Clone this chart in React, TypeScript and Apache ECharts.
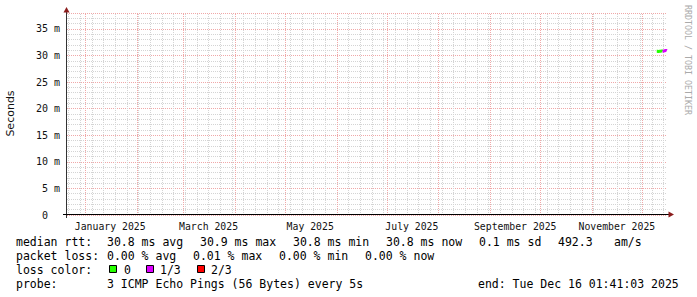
import React, { useEffect, useRef } from "react";
import * as echarts from "echarts";

// ---- data ----
const END_TIME = Date.UTC(2025, 11, 16, 1, 41, 3);
const SPAN_DAYS = 360;
const START_TIME = END_TIME - SPAN_DAYS * 86400000;

const sampleTimes = [
  "2025-12-09T22:00:00Z",
  "2025-12-10T10:00:00Z",
  "2025-12-10T22:00:00Z",
  "2025-12-11T10:00:00Z",
  "2025-12-11T22:00:00Z",
  "2025-12-12T10:00:00Z",
  "2025-12-12T22:00:00Z",
  "2025-12-13T10:00:00Z",
  "2025-12-13T22:00:00Z",
  "2025-12-14T10:00:00Z",
  "2025-12-14T22:00:00Z",
  "2025-12-15T10:00:00Z",
  "2025-12-15T22:00:00Z",
  "2025-12-16T01:30:00Z",
];
const medianRttMs = [30.8, 30.8, 30.7, 30.8, 30.8, 30.8, 30.9, 30.8, 30.8, 30.9, 30.9, 31.0, 30.9, 30.9];
const lossLevel = [0, 0, 0, 0, 0, 0, 0, 0, 1, 1, 1, 1, 1, 1]; // index into lossColors

const lossLabels = ["0", "1/3", "2/3"];
const lossColors = ["#26ff00", "#dd00ff", "#ff0000"];

const labelMonths = [0, 2, 4, 6, 8, 10]; // months of 2025 with labels
const monthNames = [
  "January", "February", "March", "April", "May", "June",
  "July", "August", "September", "October", "November", "December",
];
const yMaxMs = 38;
const yMajorMs = 5;
const yMinorMs = 1;

const legendLine1 = [
  ["median rtt:", 16],
  ["30.8 ms avg", 107],
  ["30.9 ms max", 200],
  ["30.8 ms min", 293],
  ["30.8 ms now", 386],
  ["0.1 ms sd", 479],
  ["492.3", 558],
  ["am/s", 614],
] as [string, number][];
const legendLine2 = [
  ["packet loss:", 16],
  ["0.00 % avg", 107],
  ["0.01 % max", 193],
  ["0.00 % min", 279],
  ["0.00 % now", 365],
] as [string, number][];
const legendLine4 = [
  ["probe:", 16],
  ["3 ICMP Echo Pings (56 Bytes) every 5s", 107],
  ["end: Tue Dec 16 01:41:03 2025", 478],
] as [string, number][];

const GRID_LEFT = 67;
const GRID_TOP = 13;
const GRID_W = 600;
const GRID_H = 202;
const MONO = "DejaVu Sans Mono";
const MINOR_COLOR = "#d4d4d4";
const MAJOR_COLOR = "#f0a8a8";

export default function App() {
  const ref = useRef<HTMLDivElement>(null);
  useEffect(() => {
    if (!ref.current) return;
    const chart = echarts.init(ref.current, undefined, { renderer: "svg" });

    const weekLines: number[] = [];
    for (let t = Date.UTC(2024, 11, 22); t < END_TIME; t += 7 * 86400000) {
      if (t > START_TIME) weekLines.push(t);
    }
    const monthLines: number[] = [];
    for (let m = 0; m < 12; m++) monthLines.push(Date.UTC(2025, m, 1));
    const labelValues = labelMonths.map((m) => Date.UTC(2025, m, 16));

    const times = sampleTimes.map((s) => Date.parse(s));
    const lossSeries = lossColors.map((color, L) => {
      const data = times.map((t, i) => {
        const inc = lossLevel[i] === L || (i + 1 < times.length && lossLevel[i + 1] === L);
        return [t, inc ? medianRttMs[i] / 1000 : "-"];
      });
      return {
        type: "line",
        yAxisIndex: 1,
        data,
        showSymbol: false,
        connectNulls: false,
        lineStyle: { color, width: 3 },
        itemStyle: { color },
        z: 5,
        silent: true,
      };
    });

    const vLineSeries = (xs: number[], color: string, z: number) => ({
      type: "line",
      yAxisIndex: 1,
      data: [],
      silent: true,
      z,
      markLine: {
        silent: true,
        symbol: ["none", "none"],
        label: { show: false },
        animation: false,
        lineStyle: { color, type: [1, 1], width: 1 },
        data: xs.map((x) => ({ xAxis: x })),
      },
    });

    const arrowColor = "#8b1c1c";
    const texts: any[] = [];
    const addLine = (items: [string, number][], y: number) =>
      items.forEach(([text, x]) =>
        texts.push({
          type: "text",
          x,
          y,
          style: { text, font: `11.5px "${MONO}"`, fill: "#000", verticalAlign: "middle" },
        })
      );
    addLine(legendLine1, 241.5);
    addLine(legendLine2, 255.5);
    addLine([["loss color:", 16]], 269.5);
    addLine(legendLine4, 283.5);
    const boxX = [109, 146, 197];
    const labelX = [124, 160, 211];
    lossLabels.forEach((lab, i) => {
      texts.push({
        type: "rect",
        shape: { x: boxX[i] + 0.5, y: 265.5, width: 7, height: 7 },
        style: { fill: lossColors[i], stroke: "#000", lineWidth: 1 },
      });
      texts.push({
        type: "text",
        x: labelX[i],
        y: 269.5,
        style: { text: lab, font: `11.5px "${MONO}"`, fill: "#000", verticalAlign: "middle" },
      });
    });

    chart.setOption({
      animation: false,
      grid: {
        left: GRID_LEFT,
        top: GRID_TOP,
        width: GRID_W,
        height: GRID_H,
        containLabel: false,
        outerBoundsMode: "none",
      },
      xAxis: {
        type: "value",
        min: START_TIME,
        max: END_TIME,
        axisLine: { show: false },
        axisTick: { show: false },
        splitLine: { show: false },
        axisLabel: {
          customValues: labelValues,
          formatter: (v: number) => {
            const d = new Date(v);
            return `${monthNames[d.getUTCMonth()]} ${d.getUTCFullYear()}`;
          },
          fontFamily: MONO,
          fontSize: 9.8,
          color: "#111",
          margin: 6,
        },
      },
      yAxis: [
        {
          type: "value",
          min: 0,
          max: yMaxMs / 1000,
          interval: yMinorMs / 1000,
          position: "left",
          offset: 19,
          axisLine: { show: false },
          axisTick: { show: false },
          axisLabel: {
            customValues: [0],
            formatter: () => "0",
            fontFamily: MONO,
            fontSize: 10,
            color: "#111",
            margin: 0,
          },
          splitLine: { show: true, lineStyle: { color: MINOR_COLOR, type: [1, 1], width: 1 } },
        },
        {
          type: "value",
          min: 0,
          max: yMaxMs / 1000,
          interval: yMajorMs / 1000,
          position: "left",
          offset: 7,
          axisLine: { show: false },
          axisTick: { show: false },
          splitLine: { show: true, lineStyle: { color: MAJOR_COLOR, type: [1, 1], width: 1 } },
          axisLabel: {
            showMaxLabel: false,
            showMinLabel: false,
            formatter: (v: number) => (v === 0 ? "" : `${Math.round(v * 1000)} m`),
            fontFamily: MONO,
            fontSize: 10,
            color: "#111",
            margin: 0,
          },
        },
      ],
      series: [
        vLineSeries(weekLines, MINOR_COLOR, 1),
        vLineSeries(monthLines, MAJOR_COLOR, 2),
        ...lossSeries,
      ],
      graphic: [
        {
          type: "line",
          shape: { x1: 66.5, y1: 10, x2: 66.5, y2: 218 },
          style: { stroke: "#333", lineWidth: 1 },
          z: 10,
        },
        {
          type: "line",
          shape: { x1: 63, y1: 214.5, x2: 670, y2: 214.5 },
          style: { stroke: "#000", lineWidth: 1 },
          z: 10,
        },
        {
          type: "polygon",
          shape: { points: [[63.5, 12.5], [69.5, 12.5], [66.5, 7]] },
          style: { fill: arrowColor },
          z: 11,
        },
        {
          type: "polygon",
          shape: { points: [[668.5, 211.5], [668.5, 217.5], [674, 214.5]] },
          style: { fill: arrowColor },
          z: 11,
        },
        {
          type: "text",
          x: 10.5,
          y: 113.5,
          rotation: Math.PI / 2,
          style: {
            text: "Seconds",
            font: '11px "DejaVu Sans"',
            fill: "#111",
            align: "center",
            verticalAlign: "middle",
          },
        },
        {
          type: "text",
          x: 688,
          y: 5,
          rotation: -Math.PI / 2,
          style: { text: "RRDTOOL / TOBI OETIKER", font: `8.3px "${MONO}"`, fill: "#aaaaaa", verticalAlign: "middle" },
        },
        ...texts,
      ],
    });
    return () => chart.dispose();
  }, []);
  return <div ref={ref} style={{ position: "absolute", left: 0, top: 0, width: 697, height: 297 }} />;
}
